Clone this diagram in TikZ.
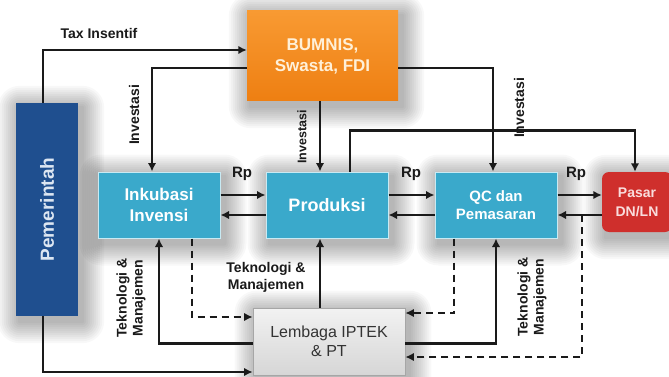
\documentclass[tikz,border=0pt]{standalone}
\usepackage{fontspec}
\setmainfont{Liberation Sans}
\usetikzlibrary{arrows.meta,calc,backgrounds}

\definecolor{pemblue}{HTML}{1F4F8F}
\definecolor{pemtext}{HTML}{DCE6F2}
\definecolor{bumtop}{HTML}{F89A32}
\definecolor{bumbot}{HTML}{EE7F12}
\definecolor{bumtext}{HTML}{FFF0D8}
\definecolor{boxblue}{HTML}{3AA9CB}
\definecolor{boxedge}{HTML}{C8EAF3}
\definecolor{pasred}{HTML}{CF2F2C}
\definecolor{pastext}{HTML}{F9DCDC}
\definecolor{lemtop}{HTML}{F2F2F2}
\definecolor{lembot}{HTML}{D6D6D6}
\definecolor{ink}{HTML}{1A1A1A}

\tikzset{
  unit/.style={rectangle, inner sep=0pt, align=center},
  bluebox/.style={unit, fill=boxblue, draw=boxedge, line width=1pt,
    minimum width=122pt, minimum height=66pt, text=white,
    font=\bfseries\fontsize{17}{21}\selectfont},
  flow/.style={line width=2.2pt, draw=ink, -{Latex[length=8.5pt,width=8.5pt]}},
  dflow/.style={flow, dash pattern=on 7pt off 5pt},
  lbl/.style={text=ink, align=center, inner sep=0pt,
    font=\bfseries\fontsize{14}{16}\selectfont},
}

\begin{document}
\begin{tikzpicture}[x=1pt,y=-1pt]
\useasboundingbox (0,0) rectangle (669,377);

% boxes
\node[unit, fill=pemblue, minimum width=62pt, minimum height=213pt,
  label={[rotate=90, text=pemtext, font=\bfseries\fontsize{19}{22}\selectfont]center:Pemerintah}]
  (pem) at (47,209.5) {};
\node[unit, top color=bumtop, bottom color=bumbot, minimum width=151pt, minimum height=90pt,
  text=bumtext, font=\bfseries\fontsize{17}{21}\selectfont]
  (bum) at (322.5,56) {BUMNIS,\\Swasta, FDI};
\node[bluebox] (inc) at (159,205) {Inkubasi\\Invensi};
\node[bluebox, font=\bfseries\fontsize{18}{21}\selectfont] (prod) at (327,205) {Produksi};
\node[bluebox, font=\bfseries\fontsize{15}{18}\selectfont] (qc) at (496,205) {QC dan\\Pemasaran};
\node[unit, fill=pasred, rounded corners=7pt, minimum width=70pt, minimum height=60pt,
  text=pastext, font=\bfseries\fontsize{14}{19}\selectfont]
  (pas) at (637,202) {Pasar\\DN/LN};
\node[unit, top color=lemtop, bottom color=lembot, draw=gray!70, line width=0.8pt,
  minimum width=152pt, minimum height=67pt, text=black!80,
  font=\fontsize{16}{19}\selectfont]
  (lem) at (329,341.5) {Lembaga IPTEK\\\& PT};

% soft shadows behind the boxes
\begin{scope}[on background layer]
  \fill[white] (0,0) rectangle (669,377);
  \foreach \n in {pem,bum,inc,prod,qc,pas,lem} {
    \foreach \r in {2,4,...,22} {
      \fill[black, opacity=0.026, rounded corners=\r pt]
        ([shift={(-\r+4,-\r+5)}]\n.north west) rectangle ([shift={(\r+4,\r+5)}]\n.south east);
    }
  }
\end{scope}

% investment and incentive flows
\draw[flow] ([xshift=-4pt]pem.north) |- ([yshift=6pt]bum.west);
\node[lbl] (tax) at (99,33) {Tax Insentif};
\draw[flow] ([yshift=-12pt]bum.west) -| ([xshift=-7pt]inc.north);
\node[lbl, rotate=90] (inv1) at (134,115) {Investasi};
\coordinate (pin) at ([xshift=-7pt]prod.north);
\draw[flow] (bum.south -| pin) -- (pin);
\node[lbl, rotate=90, font=\bfseries\fontsize{12.5}{14}\selectfont] (inv2) at (302,137) {Investasi};
\draw[flow] ([yshift=-12pt]bum.east) -| ([xshift=-3pt]qc.north);
\node[lbl, rotate=90] (inv3) at (519,108) {Investasi};
\draw[flow] ([xshift=23pt]prod.north) -- ++(0,-41) -| ([xshift=-2pt]pas.north);

% money flows along the chain
\draw[flow] ([yshift=10pt]inc.east) -- ([yshift=10pt]prod.west);
\draw[flow] ([yshift=-10pt]prod.west) -- ([yshift=-10pt]inc.east);
\draw[flow] ([yshift=10pt]prod.east) -- ([yshift=10pt]qc.west);
\draw[flow] ([yshift=-10pt]qc.west) -- ([yshift=-10pt]prod.east);
\coordinate (qa) at ([yshift=10pt]qc.east);
\coordinate (qb) at ([yshift=-10pt]qc.east);
\draw[flow] (qa) -- (qa -| pas.west);
\draw[flow] (qb -| pas.west) -- coordinate[pos=0.44] (tap) (qb);
\node[lbl, font=\bfseries\fontsize{15}{16}\selectfont] (rp1) at (242,174) {Rp};
\node[lbl, font=\bfseries\fontsize{15}{16}\selectfont] (rp2) at (411,174) {Rp};
\node[lbl, font=\bfseries\fontsize{15}{16}\selectfont] (rp3) at (576,174) {Rp};

% technology and management flows
\draw[flow] ([yshift=-2pt]lem.west) -| (inc.south);
\draw[dflow] ([xshift=33pt]inc.south) |- ([yshift=24.5pt]lem.west);
\node[lbl, rotate=90] (tm1) at (131,298) {Teknologi \&\\Manajemen};
\draw[flow] (lem.north -| pin) -- ([xshift=-7pt]prod.south);
\node[lbl, font=\bfseries\fontsize{14}{17}\selectfont] (tm2) at (266,277) {Teknologi \&\\Manajemen};
\draw[dflow] ([xshift=-42pt]qc.south) |- ([yshift=28.5pt]lem.east);
\draw[flow] ([yshift=-2pt]lem.east) -| (qc.south);
\draw[dflow] (tap) |- ([yshift=-15.5pt]lem.east);
\node[lbl, rotate=90] (tm3) at (532,297) {Teknologi \&\\Manajemen};
\draw[flow] ([xshift=-4pt]pem.south) |- ([yshift=-30.5pt]lem.west);
\end{tikzpicture}
\end{document}
